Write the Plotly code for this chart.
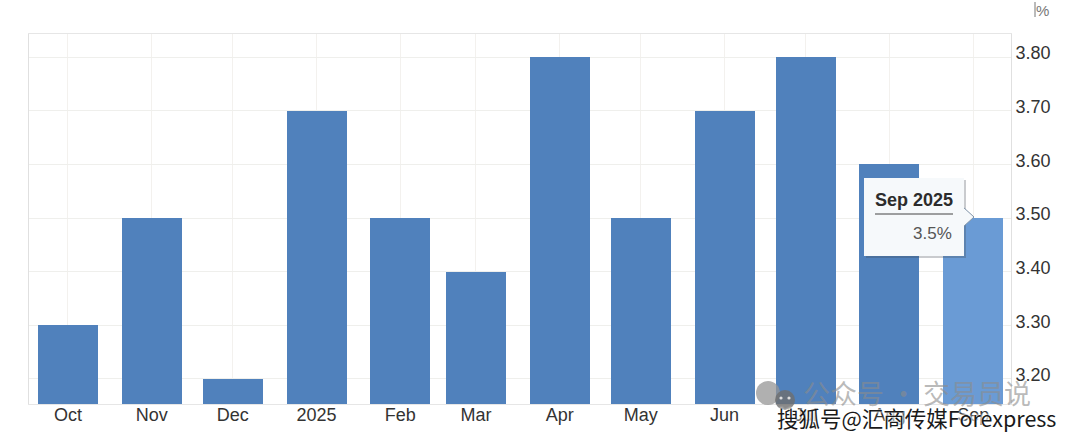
import plotly.graph_objects as go

dates = ["2024-10-01", "2024-11-01", "2024-12-01", "2025-01-01", "2025-02-01", "2025-03-01",
         "2025-04-01", "2025-05-01", "2025-06-01", "2025-07-01", "2025-08-01", "2025-09-01"]
values = [3.3, 3.5, 3.2, 3.7, 3.5, 3.4, 3.8, 3.5, 3.7, 3.8, 3.6, 3.5]
month_labels = ["Oct", "Nov", "Dec", "2025", "Feb", "Mar", "Apr", "May", "Jun", "Jul", "Aug", "Sep"]
y_ticks = [3.2, 3.3, 3.4, 3.5, 3.6, 3.7, 3.8]
BAR = "#5081bc"
HOVER = "#6a9bd5"
W, H = 1079, 440
L, R, T, B = 29, 1011, 34, 404
FONT = "Liberation Sans"


def px(x):
    return (x - L) / (R - L)


def py(y):
    return (B - y) / (B - T)


colors = [BAR] * (len(values) - 1) + [HOVER]
fig = go.Figure(go.Bar(x=dates, y=values, marker=dict(color=colors, line_width=0),
                       width=60 / 2.7 * 86400000, hoverinfo="skip"))


def rect(x0, y0, x1, y1, fill, line="rgba(0,0,0,0)", width=0, layer="above"):
    return dict(type="rect", xref="paper", yref="paper", x0=px(x0), x1=px(x1), y0=py(y0), y1=py(y1),
                fillcolor=fill, line=dict(color=line, width=width), layer=layer)


def circle(cx, cy, r, fill):
    return dict(type="circle", xref="paper", yref="paper", x0=px(cx - r), x1=px(cx + r),
                y0=py(cy + r), y1=py(cy - r), fillcolor=fill, line_width=0, layer="above")


def seg(x0, y0, x1, y1, color, width=1):
    return dict(type="line", xref="paper", yref="paper", x0=px(x0), x1=px(x1), y0=py(y0), y1=py(y1),
                line=dict(color=color, width=width), layer="above")


shapes = [
    # tooltip shadow, pointer, body, rule
    rect(866, 180, 966, 258, "rgba(60,70,80,0.28)"),
    dict(type="path", xref="paper", yref="paper", layer="above",
         path=f"M {px(963)} {py(207)} L {px(974)} {py(217)} L {px(963)} {py(227)} Z",
         fillcolor="#f6f9fb", line=dict(color="#7f93a8", width=1)),
    rect(864, 178, 964, 256, "#f6f9fb"),
    seg(875, 214, 953, 214, "#444444"),
    # watermark icon
    circle(768, 393, 12, "rgba(150,150,150,0.75)"),
    circle(785, 400, 10, "rgba(110,110,110,0.8)"),
    circle(781, 398, 1.6, "#dddddd"),
    circle(789, 398, 1.6, "#dddddd"),
    # unit cursor mark
    seg(1035, 2, 1035, 17, "#777777"),
]

annotations = [
    dict(text="<b>Sep 2025</b>", x=px(914), y=py(200), font=dict(size=18, color="#2c2c2c")),
    dict(text="3.5%", x=px(954), y=py(233), xanchor="right", font=dict(size=17, color="#555555")),
    dict(text="%", x=px(1042), y=py(10), font=dict(size=15, color="#777777")),
    dict(text="公众号 · 交易员说", x=px(917), y=py(392),
         font=dict(size=27, color="rgba(140,140,140,0.6)", family="Noto Sans CJK SC")),
    dict(text="搜狐号@汇商传媒Forexpress", x=px(916), y=py(417),
         font=dict(size=21.5, color="#1a1a1a", family="Noto Sans CJK SC",
                   shadow="0 0 3px #ffffff, 0 0 3px #ffffff, 0 0 3px #ffffff")),
]
for a in annotations:
    a.update(xref="paper", yref="paper", showarrow=False)
    a.setdefault("xanchor", "center")
    a["yanchor"] = "middle"
    a["font"].setdefault("family", FONT)

fig.update_layout(
    width=W, height=H, margin=dict(l=L, r=W - R, t=T, b=H - B, pad=0, autoexpand=False),
    paper_bgcolor="#ffffff", plot_bgcolor="#ffffff", showlegend=False,
    shapes=shapes, annotations=annotations, font=dict(family=FONT, color="#333333"),
    xaxis=dict(type="date", range=["2024-09-16 14:00", "2025-09-15"], tickmode="array",
               tickvals=dates, ticktext=month_labels, ticks="", showgrid=True, automargin=False,
               gridcolor="#f3f1ee", gridwidth=1, showline=True, linecolor="#e6e6e6", mirror=True,
               tickangle=0, tickfont=dict(size=18, color="#333333"), ticklabelstandoff=-6),
    yaxis=dict(side="right", range=[3.1534, 3.8429], tickmode="array", tickvals=y_ticks,
               ticktext=[f"{v:.2f}" for v in y_ticks], ticks="", showgrid=True, automargin=False,
               gridcolor="#efefec", gridwidth=1, showline=True, linecolor="#e0e0e0", mirror=True,
               zeroline=False, tickfont=dict(size=18, color="#333333"), ticklabelshift=-4),
    bargap=0,
)
fig.write_html("out.html", config=dict(displayModeBar=False),
               post_script="document.body.style.margin='0';document.body.style.overflow='hidden';")
